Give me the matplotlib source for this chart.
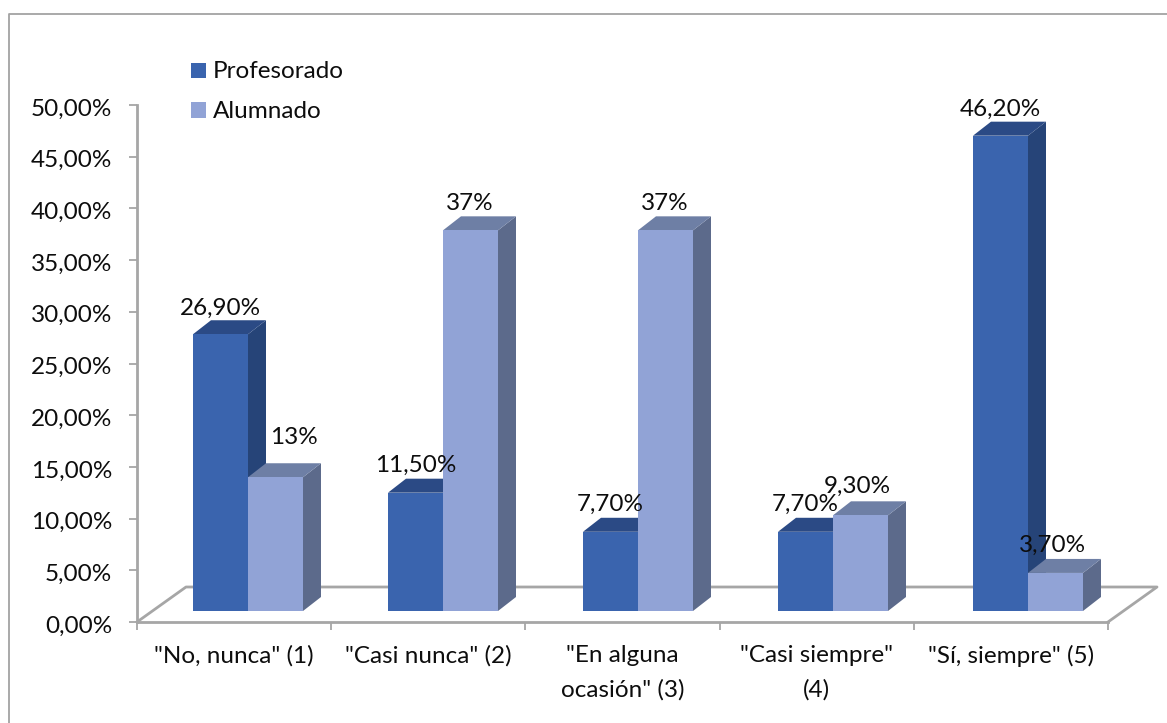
import matplotlib
matplotlib.use("Agg")
import matplotlib.pyplot as plt
from matplotlib.lines import Line2D
from matplotlib.patches import Polygon, Rectangle
from matplotlib.transforms import ScaledTranslation

categories = ['"No, nunca" (1)', '"Casi nunca" (2)', '"En alguna\nocasión" (3)', '"Casi siempre"\n(4)', '"Sí, siempre" (5)']
profesorado = [26.9, 11.5, 7.7, 7.7, 46.2]
alumnado = [13, 37, 37, 9.3, 3.7]
prof_labels = ['26,90%', '11,50%', '7,70%', '7,70%', '46,20%']
alum_labels = ['13%', '37%', '37%', '9,30%', '3,70%']
yticks = [0, 5, 10, 15, 20, 25, 30, 35, 40, 45, 50]
ytick_labels = ['0,00%', '5,00%', '10,00%', '15,00%', '20,00%', '25,00%', '30,00%', '35,00%', '40,00%', '45,00%', '50,00%']

W, H = 1167, 723
plt.rcParams['font.family'] = ['Lato', 'DejaVu Sans']
FS = 17.5
GRAY = '#A6A6A6'
TXT = '#0D0D0D'
fig = plt.figure(figsize=(W/100, H/100), dpi=100, facecolor='white')
L, R, T, B = 137, 1108, 105, 622
ax = fig.add_axes([L/W, 1-B/H, (R-L)/W, (B-T)/H])
ax.set_xlim(0, 5); ax.set_ylim(0, 50)
ax.patch.set_alpha(0)
PX = 5/(R-L); PY = 50/(B-T)

for s in ('top', 'right'):
    ax.spines[s].set_visible(False)
for s in ('left', 'bottom'):
    ax.spines[s].set_color(GRAY); ax.spines[s].set_linewidth(2)
ax.set_yticks(yticks); ax.set_yticklabels(ytick_labels, fontsize=FS, color=TXT)
ax.set_xticks(range(6)); ax.set_xticklabels([])
ax.tick_params(axis='both', length=6, width=1.3, color=GRAY)
ax.tick_params(axis='y', pad=12)
shift = ScaledTranslation(0, -2/100, fig.dpi_scale_trans)
for lab in ax.get_yticklabels():
    lab.set_transform(lab.get_transform() + shift)
for i, c in enumerate(categories):
    ax.annotate(c, (i+0.5, 0), xytext=(0, -23), textcoords='offset pixels', ha='center', va='top',
                fontsize=FS, color=TXT, linespacing=1.72, annotation_clip=False)

# floor
fdx, fdy = 49*PX, 35*PY
floor = [(0, 0), (fdx, fdy), (5+fdx, fdy), (5, 0)]
ax.add_line(Line2D(*zip(*floor), color=GRAY, lw=2, clip_on=False, zorder=1))

DX, DY = 18*PX, 14*PY
BW = 55*PX
X_START = 56*PX
X_STEP = 195*PX
Y0 = 11*PY
SC = 0.995
STY = [('#3A64AE', '#264478', '#2B4A85'), ('#91A3D6', '#5C6A8B', '#6E7FA5')]

def bar3d(x, v, style, z):
    top = Y0 + v*SC
    front, side, cap = style
    ax.add_patch(Rectangle((x, Y0), BW, v*SC, fc=front, ec='none', clip_on=False, zorder=z+.2))
    ax.add_patch(Polygon([(x+BW, Y0), (x+BW+DX, Y0+DY), (x+BW+DX, top+DY), (x+BW, top)], fc=side, ec='none', clip_on=False, zorder=z))
    ax.add_patch(Polygon([(x, top), (x+DX, top+DY), (x+BW+DX, top+DY), (x+BW, top)], fc=cap, ec='none', clip_on=False, zorder=z+.1))

LX = [[0, 0, 0, 0, 0], [18, -1, -1, -3, -3]]
LY = [[26, 27, 27, 27, 26], [40, 27, 27, 29, 28]]
for i in range(5):
    x1 = X_START + i*X_STEP
    x2 = x1 + BW
    bar3d(x1, profesorado[i], STY[0], 2+i)
    bar3d(x2, alumnado[i], STY[1], 2.5+i)
    for j, (x, v, t) in enumerate([(x1, profesorado[i], prof_labels[i]), (x2, alumnado[i], alum_labels[i])]):
        ax.annotate(t, (x+BW/2, Y0+v*SC), xytext=(LX[j][i], LY[j][i]), textcoords='offset pixels',
                    ha='center', va='center', fontsize=FS, color=TXT, zorder=20, annotation_clip=False)

# legend
for name, col, ypx in [('Profesorado', STY[0][0], 70.5), ('Alumnado', STY[1][0], 110)]:
    fig.add_artist(Rectangle((191/W, 1-(ypx+7.5)/H), 15/W, 15/H, fc=col, ec='none', transform=fig.transFigure))
    fig.text(213/W, 1-(ypx+1.5)/H, name, fontsize=FS, color=TXT, va='center', ha='left')

# border
fig.add_artist(Line2D([9/W, 9/W, 1167/W], [0, 1-14/H, 1-14/H], color='#A3A3A3', lw=1.3, transform=fig.transFigure))
fig.savefig('out.png', dpi=100)
